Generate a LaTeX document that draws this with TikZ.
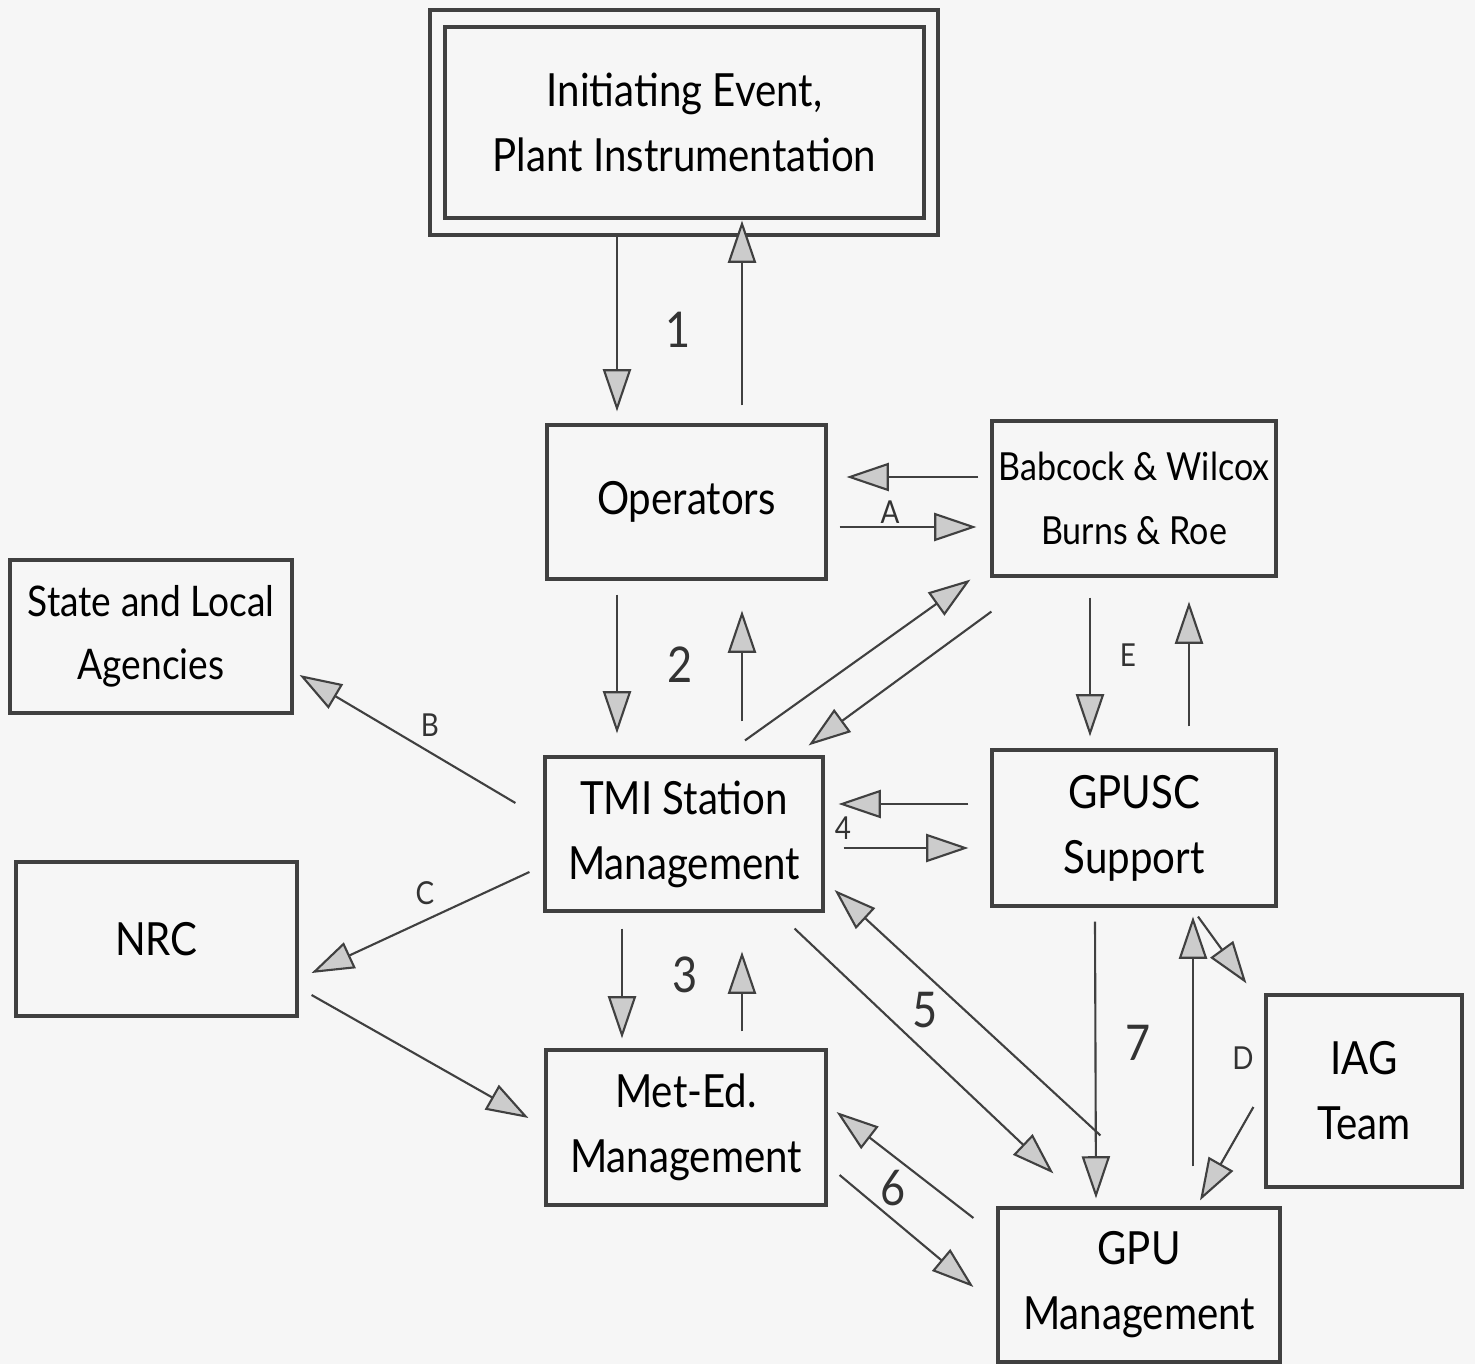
\documentclass[tikz,border=0pt]{standalone}
\usepackage{fontspec}
\setmainfont[FakeStretch=0.88]{Lato}
\usetikzlibrary{arrows.meta,calc}
\begin{document}
\begin{tikzpicture}[x=0.01cm,y=-0.01cm,
  box/.style={draw=black!75,line width=0.9pt,rectangle,align=center,inner sep=0pt,
    font=\fontsize{13}{18.5}\selectfont},
  arr/.style={draw=black!75,line width=0.6pt,
    -{Triangle[length=12pt,width=8pt,fill=gray!40,line width=0.6pt]}},
  num/.style={font=\fontsize{14}{14}\selectfont,text=black!80},
  let/.style={font=\fontsize{9}{9}\selectfont,text=black!80}]
\fill[gray!7] (0,0) rectangle (1475,1364);
\useasboundingbox (0,0) rectangle (1475,1364);
% boxes
\node[box,minimum width=508*0.01cm,minimum height=225*0.01cm] (ieo) at (684,122.5) {};
\node[box,minimum width=479*0.01cm,minimum height=191*0.01cm] (ie) at (684.5,122.5) {Initiating Event,\\Plant Instrumentation};
\node[box,minimum width=279*0.01cm,minimum height=154*0.01cm] (op) at (686.5,502) {Operators};
\node[box,minimum width=284*0.01cm,minimum height=155*0.01cm,font=\fontsize{11}{18}\selectfont] (bw) at (1134,498.5) {Babcock \& Wilcox\\Burns \& Roe};
\node[box,minimum width=282*0.01cm,minimum height=153*0.01cm,font=\fontsize{12}{18}\selectfont] (st) at (151,636.5) {State and Local\\Agencies};
\node[box,minimum width=278*0.01cm,minimum height=154*0.01cm] (tmi) at (684,834) {TMI Station\\Management};
\node[box,minimum width=284*0.01cm,minimum height=156*0.01cm] (gs) at (1134,828) {GPUSC\\Support};
\node[box,minimum width=281*0.01cm,minimum height=154*0.01cm] (nrc) at (156.5,939) {NRC};
\node[box,minimum width=280*0.01cm,minimum height=155*0.01cm] (me) at (686,1127.5) {Met-Ed.\\Management};
\node[box,minimum width=196*0.01cm,minimum height=192*0.01cm] (iag) at (1364,1091) {IAG\\Team};
\node[box,minimum width=282*0.01cm,minimum height=154*0.01cm] (gpu) at (1139,1285) {GPU\\Management};
% arrows
\draw[arr] ($(ieo.south)+(-67,0)$) -- ($(op.north)+(-69.5,-12)$);
\draw[arr] ($(op.north)+(55.5,-18)$) -- ($(ieo.south)+(58,-16)$);
\draw[arr] ($(bw.west)+(-12,-21.5)$) -- ($(op.east)+(19,-25)$);
\draw[arr] ($(op.east)+(12,25)$) -- ($(bw.west)+(-14,28.5)$);
\draw[arr] ($(op.south)+(-69.5,14)$) -- ($(tmi.north)+(-67,-22)$);
\draw[arr] ($(tmi.north)+(58,-34)$) -- ($(op.south)+(55.5,30)$);
\draw[arr] ($(tmi.north)+(61,-15)$) -- ($(bw.south west)+(-20,2)$);
\draw[arr] ($(bw.south west)+(1,34)$) -- ($(tmi.north east)+(-16,-10)$);
\draw[arr] ($(bw.south)+(-44,20)$) -- ($(gs.north)+(-44,-12)$);
\draw[arr] ($(gs.north)+(55,-22)$) -- ($(bw.south)+(55,24)$);
\draw[arr] ($(tmi.west)+(-28,-31)$) -- ($(st.east)+(6,38.5)$);
\draw[arr] ($(tmi.west)+(-14,38)$) -- ($(nrc.east)+(13,34)$);
\draw[arr] ($(nrc.east)+(13,56)$) -- ($(me.west)+(-16,-9.5)$);
\draw[arr] ($(gs.west)+(-22,-24)$) -- ($(tmi.east)+(14,-30)$);
\draw[arr] ($(tmi.east)+(19,14)$) -- ($(gs.west)+(-22,20)$);
\draw[arr] ($(tmi.south)+(-62,16)$) -- ($(me.north)+(-64,-10)$);
\draw[arr] ($(me.north)+(56,-17)$) -- ($(tmi.south)+(58,39)$);
\draw[arr] ($(tmi.south east)+(-30,16)$) -- ($(gpu.north west)+(57,-33)$);
\draw[arr] ($(gpu.north west)+(104,-71)$) -- ($(tmi.east)+(10,56)$);
\draw[arr] ($(me.east)+(12,47.5)$) -- ($(gpu.west)+(-23,2)$);
\draw[arr] ($(gpu.west)+(-23,-67)$) -- ($(me.east)+(9,-15.5)$);
\draw[arr] ($(gs.south)+(-39,14)$) -- ($(gpu.north)+(-43,-8)$);
\draw[arr] ($(gpu.north)+(54,-40)$) -- ($(gs.south)+(59,9)$);
\draw[arr] ($(gs.south)+(64,9)$) -- ($(iag.north west)+(-18,-10)$);
\draw[arr] ($(iag.west)+(-11,16)$) -- ($(gpu.north)+(61,-6)$);
% labels
\node[num] (l1) at (678,330) {1};
\node[let] (lA) at (890,512) {A};
\node[num] (l2) at (680,665) {2};
\node[let] (lE) at (1128,655) {E};
\node[let] (lB) at (430,725) {B};
\node[let] (lC) at (425,893) {C};
\node[let] (l4) at (843,828) {4};
\node[num] (l3) at (685,975) {3};
\node[num] (l5) at (925,1010) {5};
\node[num] (l6) at (893,1188) {6};
\node[num] (l7) at (1138,1043) {7};
\node[let] (lD) at (1243,1058) {D};
\end{tikzpicture}
\end{document}
